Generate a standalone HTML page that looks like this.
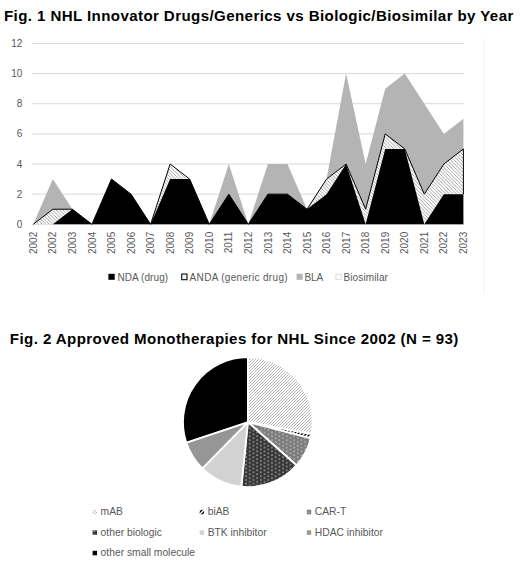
<!DOCTYPE html>
<html><head><meta charset="utf-8"><style>
html,body{margin:0;padding:0;background:#fff;}
body{width:520px;height:566px;overflow:hidden;font-family:"Liberation Sans",sans-serif;}
svg{display:block;}
text{font-family:"Liberation Sans",sans-serif;}
</style></head><body>
<svg width="520" height="566" viewBox="0 0 520 566">
<defs>
<pattern id="hatchA" width="3.5" height="3.5" patternUnits="userSpaceOnUse">
<rect width="3.5" height="3.5" fill="#fff"/>
<path d="M-1,-1 L4.5,4.5 M-1,2.5 L1,4.5 M2.5,-1 L4.5,1" stroke="#8a8a8a" stroke-width="0.8"/>
</pattern>
<pattern id="hatchM" width="3" height="3" patternUnits="userSpaceOnUse">
<rect width="3" height="3" fill="#fff"/>
<path d="M-1,4 L4,-1 M-1,1 L1,-1 M2,4 L4,2" stroke="#a8a8a8" stroke-width="0.9"/>
</pattern>
<pattern id="hatchB" width="4" height="4" patternUnits="userSpaceOnUse">
<rect width="4" height="4" fill="#fff"/>
<path d="M-1,5 L5,-1 M-1,1 L1,-1 M3,5 L5,3" stroke="#000" stroke-width="1.4"/>
</pattern>
<pattern id="dotsC" width="7.4" height="3.8" patternUnits="userSpaceOnUse">
<rect width="7.4" height="3.8" fill="#7c7c7c"/>
<rect x="1.1" y="0.4" width="1.5" height="1.5" fill="#bcbcbc"/>
<rect x="4.8" y="2.3" width="1.5" height="1.5" fill="#bcbcbc"/>
</pattern>
<pattern id="dotsO" width="7.4" height="3.8" patternUnits="userSpaceOnUse">
<rect width="7.4" height="3.8" fill="#383838"/>
<rect x="1.1" y="0.4" width="1.5" height="1.5" fill="#a0a0a0"/>
<rect x="4.8" y="2.3" width="1.5" height="1.5" fill="#a0a0a0"/>
</pattern>
</defs>

<text x="4.0" y="20.5" font-size="15.1" font-weight="bold" fill="#000" textLength="509.3" lengthAdjust="spacing">Fig. 1 NHL Innovator Drugs/Generics vs Biologic/Biosimilar by Year</text>
<line x1="31.8" y1="194.16" x2="464" y2="194.16" stroke="#d9d9d9" stroke-width="1"/>
<line x1="31.8" y1="164.02" x2="464" y2="164.02" stroke="#d9d9d9" stroke-width="1"/>
<line x1="31.8" y1="133.88" x2="464" y2="133.88" stroke="#d9d9d9" stroke-width="1"/>
<line x1="31.8" y1="103.74" x2="464" y2="103.74" stroke="#d9d9d9" stroke-width="1"/>
<line x1="31.8" y1="73.60" x2="464" y2="73.60" stroke="#d9d9d9" stroke-width="1"/>
<line x1="31.8" y1="43.46" x2="464" y2="43.46" stroke="#d9d9d9" stroke-width="1"/>
<line x1="31.8" y1="224.30" x2="464" y2="224.30" stroke="#d9d9d9" stroke-width="1"/>
<text x="22.3" y="227.90" font-size="10" fill="#595959" text-anchor="end">0</text>
<text x="22.3" y="197.76" font-size="10" fill="#595959" text-anchor="end">2</text>
<text x="22.3" y="167.62" font-size="10" fill="#595959" text-anchor="end">4</text>
<text x="22.3" y="137.48" font-size="10" fill="#595959" text-anchor="end">6</text>
<text x="22.3" y="107.34" font-size="10" fill="#595959" text-anchor="end">8</text>
<text x="22.3" y="77.20" font-size="10" fill="#595959" text-anchor="end">10</text>
<text x="22.3" y="47.06" font-size="10" fill="#595959" text-anchor="end">12</text>
<polygon points="33.30,224.30 52.85,179.09 72.40,209.23 91.95,224.30 111.50,179.09 131.05,194.16 150.60,224.30 170.15,164.02 189.70,179.09 209.25,224.30 228.80,164.02 248.35,224.30 267.90,164.02 287.45,164.02 307.00,209.23 326.55,179.09 346.10,73.60 365.65,164.02 385.20,88.67 404.75,73.60 424.30,103.74 443.85,133.88 463.40,118.81 463.40,148.95 443.85,164.02 424.30,194.16 404.75,148.95 385.20,133.88 365.65,209.23 346.10,164.02 326.55,179.09 307.00,209.23 287.45,194.16 267.90,194.16 248.35,224.30 228.80,194.16 209.25,224.30 189.70,179.09 170.15,164.02 150.60,224.30 131.05,194.16 111.50,179.09 91.95,224.30 72.40,209.23 52.85,209.23 33.30,224.30" fill="#b4b4b4"/>
<polygon points="33.30,224.30 52.85,209.23 72.40,209.23 91.95,224.30 111.50,179.09 131.05,194.16 150.60,224.30 170.15,164.02 189.70,179.09 209.25,224.30 228.80,194.16 248.35,224.30 267.90,194.16 287.45,194.16 307.00,209.23 326.55,179.09 346.10,164.02 365.65,209.23 385.20,133.88 404.75,148.95 424.30,194.16 443.85,164.02 463.40,148.95 463.40,194.16 443.85,194.16 424.30,224.30 404.75,148.95 385.20,148.95 365.65,224.30 346.10,164.02 326.55,194.16 307.00,209.23 287.45,194.16 267.90,194.16 248.35,224.30 228.80,194.16 209.25,224.30 189.70,179.09 170.15,179.09 150.60,224.30 131.05,194.16 111.50,179.09 91.95,224.30 72.40,209.23 52.85,224.30 33.30,224.30" fill="url(#hatchA)"/>
<polygon points="33.30,224.30 52.85,224.30 72.40,209.23 91.95,224.30 111.50,179.09 131.05,194.16 150.60,224.30 170.15,179.09 189.70,179.09 209.25,224.30 228.80,194.16 248.35,224.30 267.90,194.16 287.45,194.16 307.00,209.23 326.55,194.16 346.10,164.02 365.65,224.30 385.20,148.95 404.75,148.95 424.30,224.30 443.85,194.16 463.40,194.16 463.40,224.30 443.85,224.30 424.30,224.30 404.75,224.30 385.20,224.30 365.65,224.30 346.10,224.30 326.55,224.30 307.00,224.30 287.45,224.30 267.90,224.30 248.35,224.30 228.80,224.30 209.25,224.30 189.70,224.30 170.15,224.30 150.60,224.30 131.05,224.30 111.50,224.30 91.95,224.30 72.40,224.30 52.85,224.30 33.30,224.30" fill="#000"/>
<polyline points="33.30,224.30 52.85,209.23 72.40,209.23 91.95,224.30 111.50,179.09 131.05,194.16 150.60,224.30 170.15,164.02 189.70,179.09 209.25,224.30 228.80,194.16 248.35,224.30 267.90,194.16 287.45,194.16 307.00,209.23 326.55,179.09 346.10,164.02 365.65,209.23 385.20,133.88 404.75,148.95 424.30,194.16 443.85,164.02 463.40,148.95 463.40,194.16" fill="none" stroke="#000" stroke-width="1" stroke-linejoin="round"/>
<text transform="translate(36.90,231.8) rotate(-90)" font-size="10" fill="#595959" text-anchor="end">2002</text>
<text transform="translate(56.45,231.8) rotate(-90)" font-size="10" fill="#595959" text-anchor="end">2002</text>
<text transform="translate(76.00,231.8) rotate(-90)" font-size="10" fill="#595959" text-anchor="end">2003</text>
<text transform="translate(95.55,231.8) rotate(-90)" font-size="10" fill="#595959" text-anchor="end">2004</text>
<text transform="translate(115.10,231.8) rotate(-90)" font-size="10" fill="#595959" text-anchor="end">2005</text>
<text transform="translate(134.65,231.8) rotate(-90)" font-size="10" fill="#595959" text-anchor="end">2006</text>
<text transform="translate(154.20,231.8) rotate(-90)" font-size="10" fill="#595959" text-anchor="end">2007</text>
<text transform="translate(173.75,231.8) rotate(-90)" font-size="10" fill="#595959" text-anchor="end">2008</text>
<text transform="translate(193.30,231.8) rotate(-90)" font-size="10" fill="#595959" text-anchor="end">2009</text>
<text transform="translate(212.85,231.8) rotate(-90)" font-size="10" fill="#595959" text-anchor="end">2010</text>
<text transform="translate(232.40,231.8) rotate(-90)" font-size="10" fill="#595959" text-anchor="end">2011</text>
<text transform="translate(251.95,231.8) rotate(-90)" font-size="10" fill="#595959" text-anchor="end">2012</text>
<text transform="translate(271.50,231.8) rotate(-90)" font-size="10" fill="#595959" text-anchor="end">2013</text>
<text transform="translate(291.05,231.8) rotate(-90)" font-size="10" fill="#595959" text-anchor="end">2014</text>
<text transform="translate(310.60,231.8) rotate(-90)" font-size="10" fill="#595959" text-anchor="end">2015</text>
<text transform="translate(330.15,231.8) rotate(-90)" font-size="10" fill="#595959" text-anchor="end">2016</text>
<text transform="translate(349.70,231.8) rotate(-90)" font-size="10" fill="#595959" text-anchor="end">2017</text>
<text transform="translate(369.25,231.8) rotate(-90)" font-size="10" fill="#595959" text-anchor="end">2018</text>
<text transform="translate(388.80,231.8) rotate(-90)" font-size="10" fill="#595959" text-anchor="end">2019</text>
<text transform="translate(408.35,231.8) rotate(-90)" font-size="10" fill="#595959" text-anchor="end">2020</text>
<text transform="translate(427.90,231.8) rotate(-90)" font-size="10" fill="#595959" text-anchor="end">2021</text>
<text transform="translate(447.45,231.8) rotate(-90)" font-size="10" fill="#595959" text-anchor="end">2022</text>
<text transform="translate(467.00,231.8) rotate(-90)" font-size="10" fill="#595959" text-anchor="end">2023</text>
<rect x="108.4" y="273.8" width="6.3" height="6" fill="#000"/>
<text x="117.4" y="280.5" font-size="10" fill="#595959" textLength="50.7" lengthAdjust="spacing">NDA (drug)</text>
<rect x="181.7" y="274.0" width="5.3" height="5.7" fill="#f4f4f4" stroke="#111" stroke-width="1.1"/>
<text x="189.6" y="280.5" font-size="10" fill="#595959" textLength="98.0" lengthAdjust="spacing">ANDA (generic drug)</text>
<rect x="296.6" y="273.8" width="6" height="6" fill="#b4b4b4"/>
<text x="304.4" y="280.5" font-size="10" fill="#595959">BLA</text>
<rect x="335.9" y="274.2" width="5.2" height="5.2" fill="#fff" stroke="#d9d9d9" stroke-width="0.9"/>
<text x="343.5" y="280.5" font-size="10" fill="#595959" textLength="44.4" lengthAdjust="spacing">Biosimilar</text>
<line x1="483.9" y1="38.5" x2="483.9" y2="294" stroke="#f2f2f2" stroke-width="1"/>
<text x="9.8" y="344.1" font-size="15.1" font-weight="bold" fill="#000" textLength="448.6" lengthAdjust="spacing">Fig. 2 Approved Monotherapies for NHL Since 2002 (N = 93)</text>
<path d="M247.9,422.1 L247.90,357.15 A64.95,64.95 0 0 1 311.73,434.10 Z" fill="url(#hatchM)" stroke="#fff" stroke-width="1.8" stroke-linejoin="round"/>
<path d="M247.9,422.1 L311.73,434.10 A64.95,64.95 0 0 1 310.78,438.38 Z" fill="url(#hatchB)" stroke="#fff" stroke-width="1.8" stroke-linejoin="round"/>
<path d="M247.9,422.1 L310.78,438.38 A64.95,64.95 0 0 1 296.46,465.23 Z" fill="url(#dotsC)" stroke="#fff" stroke-width="1.8" stroke-linejoin="round"/>
<path d="M247.9,422.1 L296.46,465.23 A64.95,64.95 0 0 1 241.33,486.72 Z" fill="url(#dotsO)" stroke="#fff" stroke-width="1.8" stroke-linejoin="round"/>
<path d="M247.9,422.1 L241.33,486.72 A64.95,64.95 0 0 1 202.36,468.41 Z" fill="#d2d2d2" stroke="#fff" stroke-width="1.8" stroke-linejoin="round"/>
<path d="M247.9,422.1 L202.36,468.41 A64.95,64.95 0 0 1 186.27,442.59 Z" fill="#969696" stroke="#fff" stroke-width="1.8" stroke-linejoin="round"/>
<path d="M247.9,422.1 L186.27,442.59 A64.95,64.95 0 0 1 247.90,357.15 Z" fill="#000" stroke="#fff" stroke-width="1.8" stroke-linejoin="round"/>
<rect x="92.6" y="509.8" width="4.4" height="4.5" fill="url(#hatchM)"/>
<text x="100.6" y="515.2" font-size="10.3" fill="#595959">mAB</text>
<rect x="199.7" y="509.8" width="4.4" height="4.5" fill="url(#hatchB)"/>
<text x="207.7" y="515.2" font-size="10.3" fill="#595959">biAB</text>
<rect x="306.8" y="509.8" width="4.4" height="4.5" fill="url(#dotsC)"/>
<text x="314.8" y="515.2" font-size="10.3" fill="#595959">CAR-T</text>
<rect x="92.6" y="530.3" width="4.4" height="4.5" fill="url(#dotsO)"/>
<text x="100.6" y="535.7" font-size="10.3" fill="#595959">other biologic</text>
<rect x="199.7" y="530.3" width="4.4" height="4.5" fill="#d2d2d2"/>
<text x="207.7" y="535.7" font-size="10.3" fill="#595959">BTK inhibitor</text>
<rect x="306.8" y="530.3" width="4.4" height="4.5" fill="#969696"/>
<text x="314.8" y="535.7" font-size="10.3" fill="#595959">HDAC inhibitor</text>
<rect x="92.6" y="550.8" width="4.4" height="4.5" fill="#000"/>
<text x="100.6" y="556.2" font-size="10.3" fill="#595959">other small molecule</text>
</svg></body></html>
